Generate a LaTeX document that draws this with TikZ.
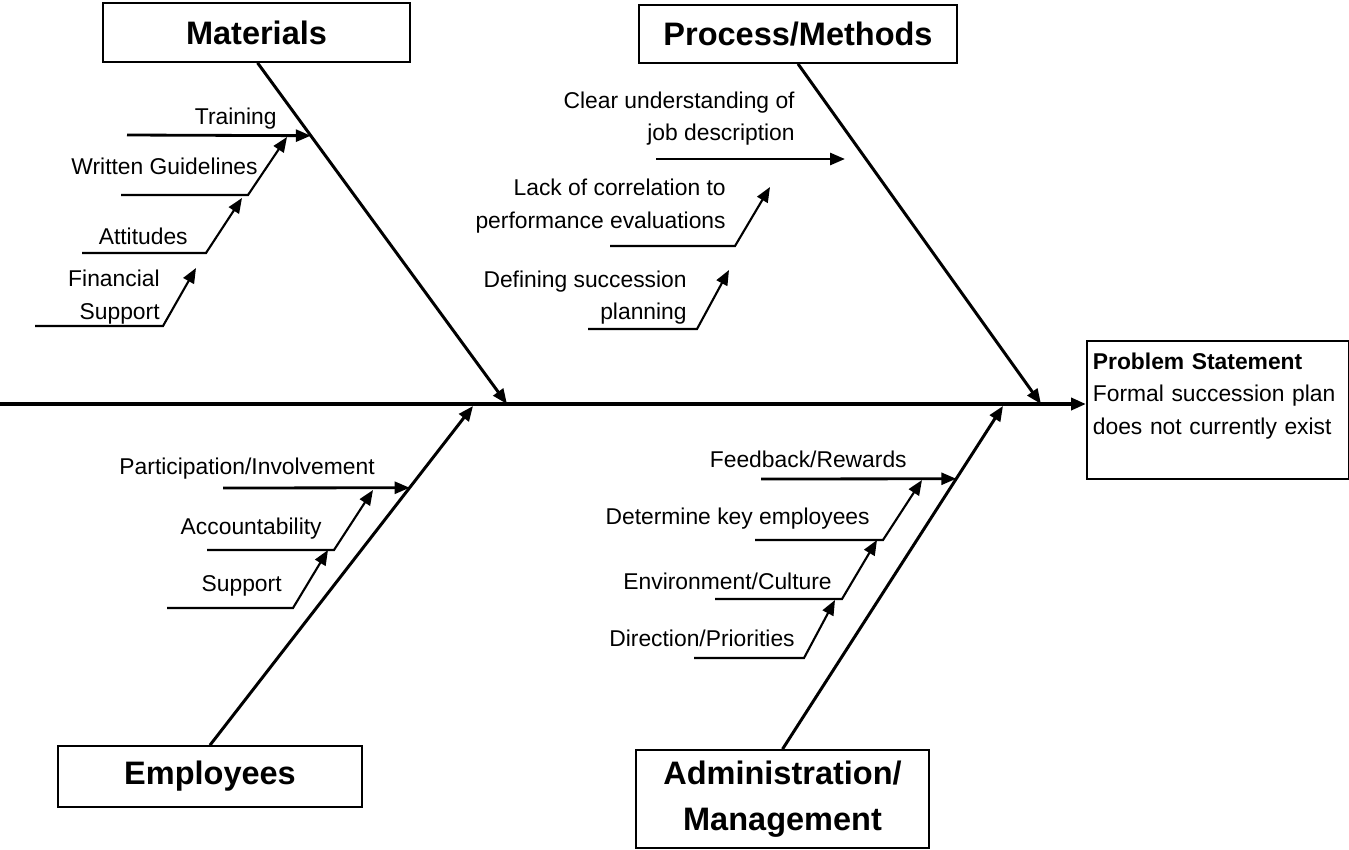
\documentclass[tikz,border=0pt]{standalone}
\usepackage{fontspec}
\setmainfont{Liberation Sans}
\usetikzlibrary{arrows.meta}

\tikzset{
  >={Triangle[length=0.3cm,width=0.24cm]},
  cat/.style={draw, line width=1pt, inner sep=0pt, align=center,
    font=\fontsize{18.5}{26}\selectfont\bfseries},
  cause/.style={anchor=east, inner sep=0pt, align=right,
    font=\fontsize{13}{18.5}\selectfont},
  spine/.style={line width=2.1pt, ->},
  bone/.style={line width=1.7pt, ->},
  twig/.style={line width=1.2pt, ->},
  twigbar/.style={line width=1.6pt, ->}
}

\begin{document}
\begin{tikzpicture}[x=0.02cm, y=-0.02cm]
\useasboundingbox (0,0) rectangle (1349,849);

\node[cat, minimum width=6.14cm, minimum height=1.18cm] (mat)  at (256.5,32.5) {Materials};
\node[cat, minimum width=6.36cm, minimum height=1.16cm] (proc) at (798,34)     {Process/Methods};
\node[cat, minimum width=6.08cm, minimum height=1.22cm] (emp)  at (210,776.5)  {Employees};
\node[cat, minimum width=5.86cm, minimum height=1.96cm] (adm)  at (782.5,799)  {Administration/\\Management};
\node[draw, line width=1pt, anchor=north west, text width=5.0cm, minimum height=2.76cm,
      inner xsep=0.12cm, inner ysep=0.16cm, align=left,
      font=\fontsize{13}{18.5}\selectfont] (prob) at (1086,340)
      {\textbf{Problem Statement}\\Formal succession plan\\does not currently exist\\\mbox{}};

\coordinate (tail) at (0,404);
\coordinate (mat-end)  at (507,404);
\coordinate (proc-end) at (1041,404);
\coordinate (emp-end)  at (473,406);
\coordinate (adm-end)  at (1003,406);

\draw[spine] (tail) -- (tail -| prob.west);
\draw[bone] (mat.-88) -- coordinate[pos=.2135] (trn-tip) (mat-end);
\draw[bone] (proc.south) -- (proc-end);
\draw[bone] (emp.north) -- coordinate[pos=.759] (prt-tip) (emp-end);
\draw[bone] (adm.north) -- coordinate[pos=.788] (fbk-tip) (adm-end);

% materials
\node[cause] (trn) at (277,119) {Training};
\node[cause] (wgd) at (258,166) {Written Guidelines};
\node[cause] (att) at (188,236) {Attitudes};
\node[cause] (fin) at (160,297) {Financial\\Support};
\path (127,135) coordinate (trn-a);
\path (121,195) coordinate (wgd-a) (248,195) coordinate (wgd-b) (287,137) coordinate (wgd-tip);
\path (82,253)  coordinate (att-a) (206,253) coordinate (att-b) (242,198) coordinate (att-tip);
\path (35,326)  coordinate (fin-a) (163,326) coordinate (fin-b) (196,268) coordinate (fin-tip);
\draw[twigbar] (trn-a) -- (trn-tip);
\draw[twig] (wgd-a) -- (wgd-b) -- (wgd-tip);
\draw[twig] (att-a) -- (att-b) -- (att-tip);
\draw[twig] (fin-a) -- (fin-b) -- (fin-tip);

% process/methods
\node[cause] (clr) at (795,118.5) {Clear understanding of\\job description};
\node[cause] (lck) at (726,206)   {Lack of correlation to\\performance evaluations};
\node[cause] (dfn) at (687,297.5) {Defining succession\\planning};
\path (656,159) coordinate (clr-a) (845,159) coordinate (clr-tip);
\path (610,246) coordinate (lck-a) (735,246) coordinate (lck-b) (770,187) coordinate (lck-tip);
\path (588,329) coordinate (dfn-a) (697,329) coordinate (dfn-b) (729,270) coordinate (dfn-tip);
\draw[twigbar] (clr-a) -- (clr-tip);
\draw[twig] (lck-a) -- (lck-b) -- (lck-tip);
\draw[twig] (dfn-a) -- (dfn-b) -- (dfn-tip);

% employees
\node[cause] (prt) at (375,469) {Participation/Involvement};
\node[cause] (acc) at (322,529) {Accountability};
\node[cause] (sup) at (282,586) {Support};
\path (223,488) coordinate (prt-a);
\path (207,550) coordinate (acc-a) (334,550) coordinate (acc-b) (373,490) coordinate (acc-tip);
\path (167,608) coordinate (sup-a) (293,608) coordinate (sup-b) (328,550) coordinate (sup-tip);
\draw[twigbar] (prt-a) -- (prt-tip);
\draw[twig] (acc-a) -- (acc-b) -- (acc-tip);
\draw[twig] (sup-a) -- (sup-b) -- (sup-tip);

% administration/management
\node[cause] (fbk) at (907,459) {Feedback/Rewards};
\node[cause] (key) at (870,519) {Determine key employees};
\node[cause] (env) at (832,581) {Environment/Culture};
\node[cause] (dir) at (795,638) {Direction/Priorities};
\path (761,479) coordinate (fbk-a);
\path (755,540) coordinate (key-a) (883,540) coordinate (key-b) (922,480) coordinate (key-tip);
\path (715,599) coordinate (env-a) (842,599) coordinate (env-b) (877,540) coordinate (env-tip);
\path (694,658) coordinate (dir-a) (804,658) coordinate (dir-b) (835,600) coordinate (dir-tip);
\draw[twigbar] (fbk-a) -- (fbk-tip);
\draw[twig] (key-a) -- (key-b) -- (key-tip);
\draw[twig] (env-a) -- (env-b) -- (env-tip);
\draw[twig] (dir-a) -- (dir-b) -- (dir-tip);
\end{tikzpicture}
\end{document}
